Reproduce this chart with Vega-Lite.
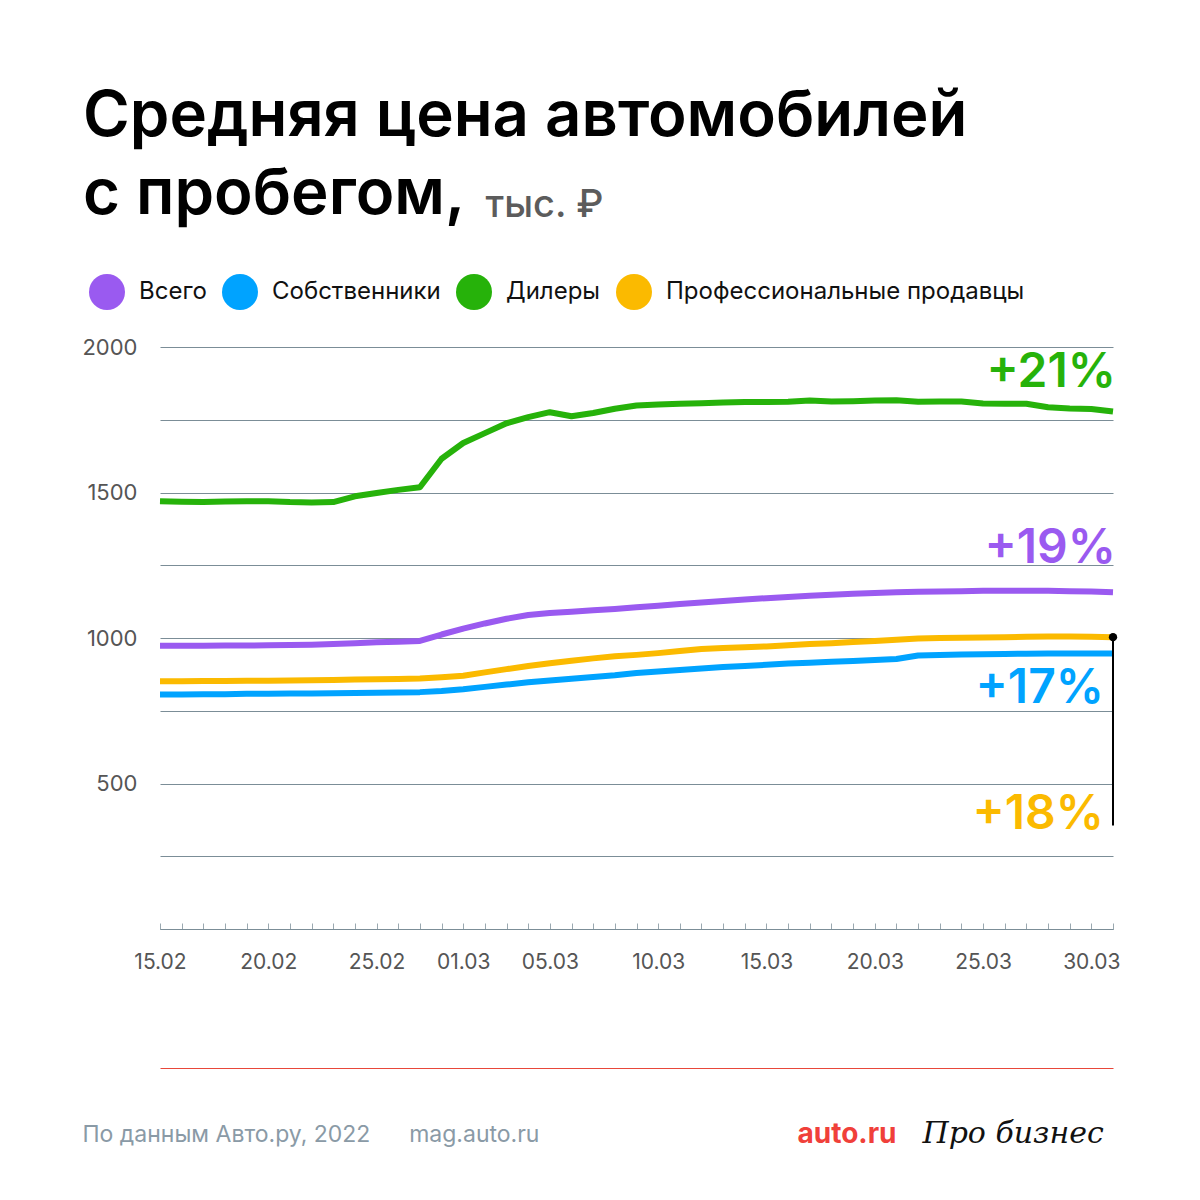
{
  "$schema": "https://vega.github.io/schema/vega-lite/v6.json",
  "width": 953,
  "height": 582,
  "autosize": "none",
  "padding": {"left": 160, "top": 347, "right": 87, "bottom": 271},
  "background": "white",
  "title": {
    "text": ["Средняя цена автомобилей", "с пробегом,"],
    "anchor": "start",
    "frame": "group",
    "dx": -77,
    "offset": -41,
    "font": "Inter",
    "fontSize": 63.5,
    "fontWeight": 600,
    "color": "#000000",
    "lineHeight": 78
  },
  "config": {
    "view": {"stroke": null},
    "font": "Inter"
  },
  "resolve": {"axis": {"x": "independent", "y": "independent"}},
  "layer": [
    {
      "data": {
        "values": [
          {"date": "2022-02-15", "Всего": 973, "Собственники": 806, "Дилеры": 1470, "Профессиональные продавцы": 851},
          {"date": "2022-02-16", "Всего": 973, "Собственники": 806, "Дилеры": 1468, "Профессиональные продавцы": 851},
          {"date": "2022-02-17", "Всего": 973, "Собственники": 807, "Дилеры": 1467, "Профессиональные продавцы": 852},
          {"date": "2022-02-18", "Всего": 974, "Собственники": 807, "Дилеры": 1469, "Профессиональные продавцы": 852},
          {"date": "2022-02-19", "Всего": 974, "Собственники": 808, "Дилеры": 1470, "Профессиональные продавцы": 853},
          {"date": "2022-02-20", "Всего": 975, "Собственники": 808, "Дилеры": 1470, "Профессиональные продавцы": 853},
          {"date": "2022-02-21", "Всего": 976, "Собственники": 809, "Дилеры": 1467, "Профессиональные продавцы": 854},
          {"date": "2022-02-22", "Всего": 977, "Собственники": 809, "Дилеры": 1466, "Профессиональные продавцы": 855},
          {"date": "2022-02-23", "Всего": 979, "Собственники": 810, "Дилеры": 1467, "Профессиональные продавцы": 856},
          {"date": "2022-02-24", "Всего": 982, "Собственники": 811, "Дилеры": 1487, "Профессиональные продавцы": 857},
          {"date": "2022-02-25", "Всего": 985, "Собственники": 812, "Дилеры": 1498, "Профессиональные продавцы": 858},
          {"date": "2022-02-26", "Всего": 987, "Собственники": 813, "Дилеры": 1509, "Профессиональные продавцы": 859},
          {"date": "2022-02-27", "Всего": 990, "Собственники": 814, "Дилеры": 1518, "Профессиональные продавцы": 861},
          {"date": "2022-02-28", "Всего": 1012, "Собственники": 818, "Дилеры": 1616, "Профессиональные продавцы": 865},
          {"date": "2022-03-01", "Всего": 1032, "Собственники": 824, "Дилеры": 1670, "Профессиональные продавцы": 870},
          {"date": "2022-03-02", "Всего": 1050, "Собственники": 832, "Дилеры": 1704, "Профессиональные продавцы": 882},
          {"date": "2022-03-03", "Всего": 1066, "Собственники": 840, "Дилеры": 1738, "Профессиональные продавцы": 893},
          {"date": "2022-03-04", "Всего": 1079, "Собственники": 848, "Дилеры": 1759, "Профессиональные продавцы": 904},
          {"date": "2022-03-05", "Всего": 1086, "Собственники": 854, "Дилеры": 1776, "Профессиональные продавцы": 913},
          {"date": "2022-03-06", "Всего": 1090, "Собственники": 860, "Дилеры": 1762, "Профессиональные продавцы": 922},
          {"date": "2022-03-07", "Всего": 1095, "Собственники": 866, "Дилеры": 1773, "Профессиональные продавцы": 930},
          {"date": "2022-03-08", "Всего": 1100, "Собственники": 872, "Дилеры": 1788, "Профессиональные продавцы": 937},
          {"date": "2022-03-09", "Всего": 1106, "Собственники": 880, "Дилеры": 1799, "Профессиональные продавцы": 942},
          {"date": "2022-03-10", "Всего": 1111, "Собственники": 885, "Дилеры": 1802, "Профессиональные продавцы": 948},
          {"date": "2022-03-11", "Всего": 1117, "Собственники": 890, "Дилеры": 1805, "Профессиональные продавцы": 955},
          {"date": "2022-03-12", "Всего": 1122, "Собственники": 895, "Дилеры": 1807, "Профессиональные продавцы": 962},
          {"date": "2022-03-13", "Всего": 1127, "Собственники": 900, "Дилеры": 1809, "Профессиональные продавцы": 966},
          {"date": "2022-03-14", "Всего": 1132, "Собственники": 904, "Дилеры": 1811, "Профессиональные продавцы": 968},
          {"date": "2022-03-15", "Всего": 1137, "Собственники": 908, "Дилеры": 1811, "Профессиональные продавцы": 971},
          {"date": "2022-03-16", "Всего": 1141, "Собственники": 912, "Дилеры": 1812, "Профессиональные продавцы": 975},
          {"date": "2022-03-17", "Всего": 1145, "Собственники": 915, "Дилеры": 1816, "Профессиональные продавцы": 979},
          {"date": "2022-03-18", "Всего": 1149, "Собственники": 918, "Дилеры": 1813, "Профессиональные продавцы": 982},
          {"date": "2022-03-19", "Всего": 1152, "Собственники": 921, "Дилеры": 1814, "Профессиональные продавцы": 986},
          {"date": "2022-03-20", "Всего": 1155, "Собственники": 924, "Дилеры": 1816, "Профессиональные продавцы": 990},
          {"date": "2022-03-21", "Всего": 1157, "Собственники": 928, "Дилеры": 1817, "Профессиональные продавцы": 994},
          {"date": "2022-03-22", "Всего": 1159, "Собственники": 940, "Дилеры": 1812, "Профессиональные продавцы": 998},
          {"date": "2022-03-23", "Всего": 1160, "Собственники": 942, "Дилеры": 1813, "Профессиональные продавцы": 1000},
          {"date": "2022-03-24", "Всего": 1161, "Собственники": 943, "Дилеры": 1813, "Профессиональные продавцы": 1001},
          {"date": "2022-03-25", "Всего": 1162, "Собственники": 944, "Дилеры": 1806, "Профессиональные продавцы": 1002},
          {"date": "2022-03-26", "Всего": 1162, "Собственники": 945, "Дилеры": 1805, "Профессиональные продавцы": 1003},
          {"date": "2022-03-27", "Всего": 1162, "Собственники": 946, "Дилеры": 1805, "Профессиональные продавцы": 1004},
          {"date": "2022-03-28", "Всего": 1162, "Собственники": 947, "Дилеры": 1793, "Профессиональные продавцы": 1005},
          {"date": "2022-03-29", "Всего": 1161, "Собственники": 947, "Дилеры": 1789, "Профессиональные продавцы": 1005},
          {"date": "2022-03-30", "Всего": 1160, "Собственники": 947, "Дилеры": 1787, "Профессиональные продавцы": 1004},
          {"date": "2022-03-31", "Всего": 1157, "Собственники": 947, "Дилеры": 1778, "Профессиональные продавцы": 1003}
        ]
      },
      "transform": [
        {"fold": ["Всего", "Собственники", "Дилеры", "Профессиональные продавцы"], "as": ["series", "value"]}
      ],
      "mark": {"type": "line", "strokeWidth": 6, "strokeJoin": "round", "strokeCap": "butt"},
      "encoding": {
        "x": {
          "field": "date",
          "type": "temporal",
          "scale": {"type": "utc", "nice": false},
          "axis": {
            "orient": "bottom",
            "tickCount": {"interval": "day", "step": 1},
            "labelExpr": "indexof(['15.02','20.02','25.02','01.03','05.03','10.03','15.03','20.03','25.03','30.03'], utcFormat(datum.value, '%d.%m')) >= 0 ? utcFormat(datum.value, '%d.%m') : ''",
            "labelOverlap": false,
            "labelBound": false,
            "labelFlush": false,
            "labelFont": "Inter",
            "labelFontSize": 21,
            "labelColor": "#555555",
            "labelPadding": 28,
            "ticks": true,
            "tickSize": -6,
            "tickColor": "#9AA8B0",
            "tickWidth": 1,
            "domainColor": "#7B8D97",
            "domainWidth": 1,
            "grid": false,
            "title": "По данным Авто.ру, 2022\u00a0\u00a0\u00a0\u00a0\u00a0\u00a0mag.auto.ru",
            "titleX": -78,
            "titleY": 212,
            "titleAlign": "left",
            "titleBaseline": "alphabetic",
            "titleFont": "Inter",
            "titleFontSize": 23,
            "titleFontWeight": 400,
            "titleColor": "#8A9AA6"
          }
        },
        "y": {
          "field": "value",
          "type": "quantitative",
          "scale": {"domain": [0, 2000], "nice": false, "zero": true},
          "axis": {
            "orient": "left",
            "values": [0, 250, 500, 750, 1000, 1250, 1500, 1750, 2000],
            "format": "d",
            "labelExpr": "datum.value % 500 === 0 && datum.value > 0 ? datum.label : ''",
            "labelFont": "Inter",
            "labelFontSize": 22,
            "labelColor": "#555555",
            "labelPadding": 23,
            "labelBaseline": "middle",
            "domain": false,
            "ticks": false,
            "grid": true,
            "gridColor": "#7B8D97",
            "gridWidth": 1,
            "title": "тыс. ₽",
            "titleAngle": 0,
            "titleX": 325,
            "titleY": -131,
            "titleAlign": "left",
            "titleBaseline": "alphabetic",
            "titleFont": "Inter",
            "titleFontSize": 38,
            "titleFontWeight": 500,
            "titleColor": "#5C5C5C"
          }
        },
        "color": {
          "field": "series",
          "type": "nominal",
          "scale": {
            "domain": ["Всего", "Собственники", "Дилеры", "Профессиональные продавцы"],
            "range": ["#9A5AF0", "#00A3FF", "#26B20A", "#FBBA00"]
          },
          "legend": {
            "orient": "none",
            "direction": "horizontal",
            "legendX": -71,
            "legendY": -73,
            "title": null,
            "padding": 0,
            "symbolType": "circle",
            "symbolSize": 1296,
            "symbolStrokeWidth": 0,
            "symbolOpacity": 1,
            "labelFont": "Inter",
            "labelFontSize": 24,
            "labelColor": "#111111",
            "labelOffset": 14,
            "columnPadding": 15,
            "labelLimit": 500
          }
        }
      }
    },
    {
      "data": {"values": [{"date": "2022-03-31", "from": 1003, "to": 356}]},
      "mark": {"type": "rule", "color": "#000000", "strokeWidth": 2},
      "encoding": {
        "x": {"field": "date", "type": "temporal", "axis": null},
        "y": {"field": "from", "type": "quantitative", "axis": null},
        "y2": {"field": "to"}
      }
    },
    {
      "data": {"values": [{"date": "2022-03-31", "value": 1003}]},
      "mark": {"type": "point", "filled": true, "color": "#000000", "opacity": 1, "size": 70},
      "encoding": {
        "x": {"field": "date", "type": "temporal", "axis": null},
        "y": {"field": "value", "type": "quantitative", "axis": null}
      }
    },
    {
      "data": {
        "values": [
          {"date": "2022-03-31", "value": 1861, "label": "+21%", "series": "Дилеры"},
          {"date": "2022-03-31", "value": 1259, "label": "+19%", "series": "Всего"}
        ]
      },
      "mark": {"type": "text", "align": "right", "baseline": "alphabetic", "dx": 3, "font": "Inter", "fontSize": 48, "fontWeight": 600},
      "encoding": {
        "x": {
          "field": "date",
          "type": "temporal",
          "axis": {
            "orient": "top",
            "offset": -721,
            "labels": false,
            "ticks": false,
            "grid": false,
            "domain": true,
            "domainColor": "#E8473A",
            "domainWidth": 1,
            "title": "auto.ru",
            "titleX": 637,
            "titleY": 74,
            "titleAlign": "left",
            "titleBaseline": "alphabetic",
            "titleFont": "Inter",
            "titleFontSize": 28,
            "titleFontWeight": 700,
            "titleColor": "#F0403A"
          }
        },
        "y": {
          "field": "value",
          "type": "quantitative",
          "axis": {
            "orient": "right",
            "labels": false,
            "ticks": false,
            "grid": false,
            "domain": false,
            "title": "Про бизнес",
            "titleAngle": 0,
            "titleX": -191,
            "titleY": 795,
            "titleAlign": "left",
            "titleBaseline": "alphabetic",
            "titleFont": "DejaVu Serif",
            "titleFontStyle": "italic",
            "titleFontSize": 30,
            "titleFontWeight": 400,
            "titleColor": "#111111"
          }
        },
        "color": {"field": "series", "type": "nominal", "legend": null},
        "text": {"field": "label"}
      }
    },
    {
      "data": {
        "values": [
          {"date": "2022-03-31", "value": 778, "label": "+17%", "series": "Собственники"},
          {"date": "2022-03-31", "value": 345, "label": "+18%", "series": "Профессиональные продавцы"}
        ]
      },
      "mark": {"type": "text", "align": "right", "baseline": "alphabetic", "dx": -9, "font": "Inter", "fontSize": 48, "fontWeight": 600},
      "encoding": {
        "x": {"field": "date", "type": "temporal", "axis": null},
        "y": {"field": "value", "type": "quantitative", "axis": null},
        "color": {"field": "series", "type": "nominal", "legend": null},
        "text": {"field": "label"}
      }
    }
  ]
}
